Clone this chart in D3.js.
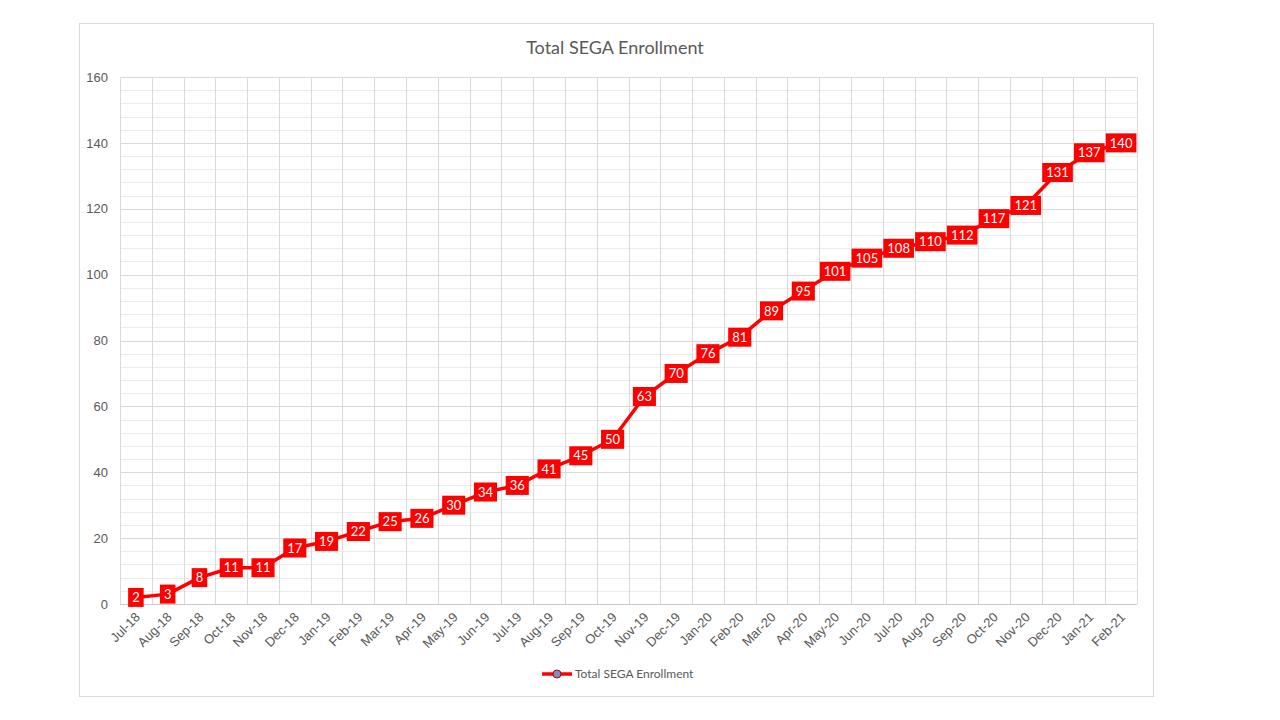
<!DOCTYPE html>
<html>
<head>
<meta charset="utf-8">
<script src="https://cdn.jsdelivr.net/npm/d3@7"></script>
<style>
  body { margin: 0; background: #fff; }
  svg { font-family: Lato, "Open Sans", sans-serif; }
</style>
</head>
<body>
<svg id="chart" width="1280" height="720"></svg>
<script>
// monthly totals
const months = ["Jul-18","Aug-18","Sep-18","Oct-18","Nov-18","Dec-18","Jan-19","Feb-19","Mar-19","Apr-19",
  "May-19","Jun-19","Jul-19","Aug-19","Sep-19","Oct-19","Nov-19","Dec-19","Jan-20","Feb-20",
  "Mar-20","Apr-20","May-20","Jun-20","Jul-20","Aug-20","Sep-20","Oct-20","Nov-20","Dec-20",
  "Jan-21","Feb-21"];
const enrollment = [2,3,8,11,11,17,19,22,25,26,30,34,36,41,45,50,63,70,76,81,89,95,101,105,108,110,112,117,121,131,137,140];
const yTicks = [0,20,40,60,80,100,120,140,160];
const minorTicks = d3.range(0, 161, 4);

const svg = d3.select("#chart");
const plotL = 120, plotR = 1137, plotT = 77, plotB = 604;

// chart area border
svg.append("rect")
  .attr("x", 79.5).attr("y", 23.5)
  .attr("width", 1074).attr("height", 673)
  .attr("fill", "#fff").attr("stroke", "#d9d9d9");

svg.append("text")
  .attr("x", 615).attr("y", 54)
  .attr("text-anchor", "middle")
  .attr("font-size", 18).attr("fill", "#595959")
  .text("Total SEGA Enrollment");

const x = d3.scaleBand().domain(months).range([plotL, plotR]);
const y = d3.scaleLinear().domain([0, 160]).range([plotB, plotT]);

// minor horizontal grid
svg.append("g").selectAll("line")
  .data(minorTicks.filter(d => d % 20 !== 0))
  .join("line")
  .attr("x1", plotL).attr("x2", plotR)
  .attr("y1", d => Math.round(y(d)) + 0.5).attr("y2", d => Math.round(y(d)) + 0.5)
  .attr("stroke", "#ececec");

// vertical grid at category edges
svg.append("g").selectAll("line")
  .data(months)
  .join("line")
  .attr("x1", d => Math.round(x(d) + x.bandwidth()) + 0.5)
  .attr("x2", d => Math.round(x(d) + x.bandwidth()) + 0.5)
  .attr("y1", plotT).attr("y2", plotB)
  .attr("stroke", "#dadada");

// major horizontal grid
svg.append("g").selectAll("line")
  .data(yTicks)
  .join("line")
  .attr("x1", plotL).attr("x2", plotR)
  .attr("y1", d => Math.round(y(d)) + 0.5).attr("y2", d => Math.round(y(d)) + 0.5)
  .attr("stroke", d => d === 0 ? "#c8c8c8" : "#d9d9d9");

svg.append("line")
  .attr("x1", plotL + 0.5).attr("x2", plotL + 0.5)
  .attr("y1", plotT).attr("y2", plotB)
  .attr("stroke", "#dadada");

// y axis labels
const yAxis = d3.axisLeft(y).tickValues(yTicks).tickSize(0).tickPadding(12);
const gy = svg.append("g").attr("transform", `translate(${plotL},0)`).call(yAxis);
gy.select(".domain").remove();
gy.selectAll("text").attr("font-size", 13).attr("fill", "#595959").attr("font-family", null);

// x axis labels, rotated
const xAxis = d3.axisBottom(x).tickSize(0).tickPadding(0);
const gx = svg.append("g").attr("transform", `translate(0,${plotB})`).call(xAxis);
gx.select(".domain").remove();
gx.selectAll("text")
  .attr("font-size", 13).attr("fill", "#595959").attr("font-family", null)
  .attr("text-anchor", "end")
  .attr("dy", null)
  .attr("transform", "translate(5,14) rotate(-45)");

// line
const line = d3.line()
  .x((d, i) => x(months[i]) + x.bandwidth() / 2)
  .y(d => y(d));

svg.append("path")
  .datum(enrollment)
  .attr("d", line)
  .attr("fill", "none")
  .attr("stroke", "#ff0000")
  .attr("stroke-width", 3.5)
  .attr("stroke-linejoin", "round");

// data labels with red fill
const labels = svg.append("g").selectAll("g")
  .data(enrollment)
  .join("g")
  .attr("transform", (d, i) => `translate(${x(months[i]) + x.bandwidth() / 2},${y(d)})`);

labels.append("rect").attr("fill", "#ff0000");
labels.append("text")
  .attr("text-anchor", "middle")
  .attr("dy", "0.36em")
  .attr("font-size", 13)
  .attr("fill", "#fff")
  .text(d => d);

labels.each(function() {
  const g = d3.select(this);
  const w = g.select("text").node().getComputedTextLength();
  g.select("rect")
    .attr("x", -(w / 2 + 4)).attr("y", -9.5)
    .attr("width", w + 8).attr("height", 19);
});

// legend
const lg = svg.append("g").attr("transform", "translate(542,674)");
lg.append("line").attr("x1", 0).attr("x2", 30).attr("stroke", "#ff0000").attr("stroke-width", 3.5);
lg.append("circle").attr("cx", 15).attr("r", 4).attr("fill", "#7b8fc7").attr("stroke", "#c00000").attr("stroke-width", 1);
lg.append("text")
  .attr("x", 33).attr("dy", "0.35em")
  .attr("font-size", 12).attr("fill", "#595959")
  .text("Total SEGA Enrollment");
</script>
</body>
</html>
